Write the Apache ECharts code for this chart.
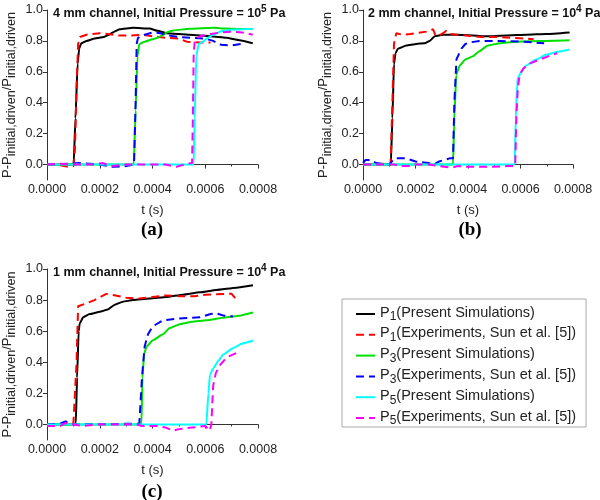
<!DOCTYPE html>
<html>
<head>
<meta charset="utf-8">
<script src="https://cdn.jsdelivr.net/npm/echarts@6/dist/echarts.min.js"></script>
<style>html,body{margin:0;padding:0;background:#fff}#c{width:600px;height:500px}</style>
</head>
<body>
<div id="c"></div>
<script>
// ---------- data (t in seconds, value = (P - Pinit)/Pinit) ----------
const seriesNames = [
  'P1(Present Simulations)',
  'P1(Experiments, Sun et al. [5])',
  'P3(Present Simulations)',
  'P3(Experiments, Sun et al. [5])',
  'P5(Present Simulations)',
  'P5(Experiments, Sun et al. [5])'
];
const seriesColors = ['#000000', '#ff0000', '#00e000', '#0000ff', '#00ffff', '#ff00ff'];
const panelTitles = [
  ['4 mm channel, Initial Pressure = 10', '5', ' Pa'],
  ['2 mm channel, Initial Pressure = 10', '4', ' Pa'],
  ['1 mm channel, Initial Pressure = 10', '4', ' Pa']
];
const panelLetters = ['(a)', '(b)', '(c)'];
const xTicks = [0, 0.0002, 0.0004, 0.0006, 0.0008];
const yTicks = [0, 0.2, 0.4, 0.6, 0.8, 1.0];

// panel (a) 4 mm
const a_P1_sim = [[0,0],[0.000101,0],[0.000108,0.3],[0.000116,0.65],[0.000122,0.75],[0.00013,0.785],[0.00015,0.80],[0.000181,0.815],[0.000215,0.825],[0.000235,0.84],[0.000255,0.86],[0.000276,0.875],[0.000326,0.885],[0.000389,0.88],[0.00042,0.865],[0.000453,0.85],[0.000541,0.84],[0.00062,0.83],[0.00068,0.82],[0.00073,0.805],[0.00078,0.785]];
const a_P1_exp = [[0,0],[0.00005,-0.005],[0.00008,-0.015],[0.0001,-0.01],[0.000106,0.1],[0.000112,0.5],[0.000118,0.78],[0.000125,0.825],[0.00015,0.84],[0.0002,0.85],[0.00023,0.845],[0.00027,0.835],[0.00032,0.835],[0.00036,0.84],[0.0004,0.83],[0.00045,0.82],[0.0005,0.815],[0.00053,0.795],[0.00058,0.79],[0.00062,0.79]];
const a_P3_sim = [[0,0],[0.000329,0],[0.000336,0.35],[0.000343,0.7],[0.00035,0.78],[0.00037,0.795],[0.0004,0.81],[0.00042,0.82],[0.00044,0.84],[0.00046,0.86],[0.00048,0.868],[0.00054,0.878],[0.00063,0.885],[0.00068,0.88],[0.00073,0.877],[0.00078,0.877]];
const a_P3_exp = [[0,0],[0.00008,0.005],[0.00012,0.01],[0.00016,0.005],[0.0002,0],[0.00025,-0.015],[0.0003,-0.01],[0.00033,0],[0.000336,0.4],[0.00034,0.78],[0.000345,0.82],[0.00037,0.84],[0.0004,0.855],[0.00043,0.85],[0.00046,0.835],[0.0005,0.825],[0.00055,0.82],[0.0006,0.815],[0.00063,0.80],[0.00066,0.775],[0.0007,0.77],[0.00075,0.785]];
const a_P5_sim = [[0,0],[0.000556,0],[0.00056,0.3],[0.000566,0.7],[0.000575,0.78],[0.00059,0.795],[0.00061,0.82],[0.00063,0.84],[0.00066,0.862],[0.0007,0.872],[0.00074,0.876],[0.00078,0.877]];
const a_P5_exp = [[0,0],[0.00005,0.005],[0.0001,0],[0.00018,0],[0.00021,0.01],[0.00025,-0.01],[0.0003,0],[0.00038,0],[0.00045,0],[0.00049,-0.015],[0.00053,0.005],[0.00055,0.01],[0.000553,0.3],[0.000556,0.7],[0.00056,0.8],[0.00058,0.83],[0.00062,0.845],[0.00066,0.855],[0.0007,0.86],[0.00074,0.855],[0.00078,0.84]];

// panel (b) 2 mm
const b_P1_sim = [[0,0],[0.000106,0],[0.000112,0.3],[0.000118,0.65],[0.000124,0.72],[0.000133,0.75],[0.000165,0.77],[0.000203,0.78],[0.000235,0.785],[0.000254,0.80],[0.000273,0.83],[0.000305,0.84],[0.000356,0.84],[0.000419,0.835],[0.00047,0.83],[0.000546,0.835],[0.000622,0.84],[0.000698,0.845],[0.000787,0.855]];
const b_P1_exp = [[0,0],[0.00004,0],[0.00008,0.005],[0.000105,0],[0.000112,0.4],[0.000118,0.78],[0.000127,0.85],[0.00015,0.84],[0.00018,0.845],[0.000203,0.85],[0.000241,0.86],[0.000267,0.875],[0.000275,0.84],[0.000285,0.83],[0.000305,0.85],[0.000317,0.865],[0.00033,0.845],[0.00036,0.84],[0.000394,0.835],[0.00045,0.825],[0.00052,0.825],[0.00057,0.82],[0.00062,0.815],[0.00065,0.81]];
const b_P3_sim = [[0,0],[0.000343,0],[0.000348,0.3],[0.000355,0.58],[0.000368,0.64],[0.00039,0.68],[0.000419,0.70],[0.00044,0.73],[0.000476,0.77],[0.000521,0.785],[0.00058,0.795],[0.000673,0.80],[0.000787,0.805]];
const b_P3_exp = [[0,0.01],[0.00001,0.03],[0.00003,0.03],[0.00005,0.01],[0.0001,0],[0.00012,0.04],[0.000165,0.04],[0.0002,0.02],[0.00025,0.01],[0.00027,0],[0.00029,0.02],[0.00033,0.04],[0.000343,0.04],[0.000348,0.4],[0.000356,0.68],[0.000375,0.75],[0.00039,0.78],[0.000406,0.79],[0.000444,0.80],[0.00052,0.80],[0.0006,0.795],[0.00065,0.79],[0.00069,0.785]];
const b_P5_sim = [[0,0],[0.000578,0],[0.000582,0.3],[0.000587,0.52],[0.00059,0.56],[0.000603,0.6],[0.00062,0.64],[0.00066,0.68],[0.000698,0.71],[0.00074,0.73],[0.000787,0.745]];
const b_P5_exp = [[0,0],[0.00012,0],[0.00014,-0.01],[0.00018,-0.01],[0.0002,0],[0.00025,0],[0.00029,-0.01],[0.00034,-0.02],[0.00036,-0.01],[0.0004,-0.015],[0.00048,-0.015],[0.00055,-0.01],[0.00058,-0.01],[0.000584,0.3],[0.00059,0.5],[0.000597,0.58],[0.00061,0.62],[0.00063,0.65],[0.000673,0.68],[0.000705,0.70],[0.00074,0.72]];

// panel (c) 1 mm
const c_P1_sim = [[0,0],[0.000109,0],[0.000114,0.3],[0.00012,0.6],[0.000124,0.65],[0.000137,0.69],[0.000162,0.71],[0.0002,0.725],[0.000231,0.74],[0.000257,0.77],[0.000288,0.79],[0.000326,0.80],[0.000389,0.81],[0.000453,0.82],[0.000516,0.835],[0.000579,0.85],[0.000642,0.865],[0.000718,0.88],[0.000781,0.895]];
const c_P1_exp = [[0,0],[0.00004,-0.01],[0.00007,0.01],[0.0001,0.005],[0.000106,0],[0.000112,0.4],[0.000118,0.76],[0.000124,0.77],[0.00015,0.78],[0.00018,0.80],[0.000225,0.84],[0.00026,0.83],[0.0003,0.815],[0.00035,0.81],[0.0004,0.82],[0.00045,0.83],[0.0005,0.825],[0.00056,0.825],[0.0006,0.835],[0.00068,0.84],[0.0007,0.84],[0.000715,0.81]];
const c_P3_sim = [[0,0],[0.000358,0],[0.000362,0.3],[0.000368,0.45],[0.000377,0.5],[0.0004,0.54],[0.00044,0.58],[0.000465,0.62],[0.000503,0.645],[0.00055,0.66],[0.000604,0.67],[0.00068,0.69],[0.00073,0.70],[0.000781,0.72]];
const c_P3_exp = [[0,0],[0.00005,0.005],[0.00007,0.02],[0.00009,0.01],[0.0001,0],[0.00035,0.005],[0.000352,0.01],[0.00036,0.3],[0.00037,0.5],[0.000383,0.58],[0.0004,0.63],[0.00044,0.67],[0.00049,0.68],[0.00058,0.69],[0.00062,0.71],[0.00064,0.715],[0.00067,0.70],[0.000705,0.695]];
const c_P5_sim = [[0,0],[0.000604,0],[0.000612,0.2],[0.000618,0.32],[0.00063,0.36],[0.00065,0.41],[0.000668,0.45],[0.000705,0.49],[0.00074,0.52],[0.000781,0.54]];
const c_P5_exp = [[0,-0.01],[0.00005,-0.01],[0.00007,0.01],[0.0001,0],[0.000137,-0.01],[0.00016,-0.005],[0.0002,0],[0.0003,0],[0.00034,0],[0.00036,-0.01],[0.00042,-0.01],[0.00045,-0.02],[0.000478,-0.04],[0.0005,-0.03],[0.00055,-0.02],[0.0006,-0.01],[0.000617,-0.04],[0.000623,0],[0.00063,0.25],[0.00064,0.33],[0.000655,0.38],[0.00068,0.43],[0.000718,0.46],[0.000735,0.465]];

const panelData = [
  [a_P1_sim, a_P1_exp, a_P3_sim, a_P3_exp, a_P5_sim, a_P5_exp],
  [b_P1_sim, b_P1_exp, b_P3_sim, b_P3_exp, b_P5_sim, b_P5_exp],
  [c_P1_sim, c_P1_exp, c_P3_sim, c_P3_exp, c_P5_sim, c_P5_exp]
];

// ---------- layout ----------
const FONT = 'Liberation Sans';
const grids = [
  {left: 47, top: 10, width: 211, height: 170},
  {left: 363, top: 10, width: 210, height: 170},
  {left: 47, top: 269, width: 211, height: 171}
];
const titlePos = [{left: 53, top: 4}, {left: 368, top: 4}, {left: 53, top: 263}];
const letterPos = [[152, 230], [470, 230], [152, 492]];

const nameRich = {
  m: {fontSize: 13, verticalAlign: 'bottom', padding: [0, 0, 4, 0], color: '#222', fontFamily: FONT},
  s: {fontSize: 12.5, verticalAlign: 'bottom', color: '#222', fontFamily: FONT}
};

const xAxes = [], yAxes = [], series = [], titles = [], graphics = [];
grids.forEach((g, i) => {
  xAxes.push({
    type: 'value', gridIndex: i, min: 0, max: 0.0008, interval: 0.0002,
    axisLine: {show: true, lineStyle: {color: '#333', width: 1}},
    axisTick: {show: true, length: 4, lineStyle: {color: '#333'}},
    minorTick: {show: true, splitNumber: 2, length: 2, lineStyle: {color: '#333'}},
    splitLine: {show: false},
    axisLabel: {fontSize: 12.5, color: '#222', margin: 3, fontFamily: FONT,
      formatter: v => v.toFixed(4)},
    name: 't (s)', nameLocation: 'middle', nameGap: 24,
    nameTextStyle: {fontSize: 13, color: '#222', fontFamily: FONT}
  });
  yAxes.push({
    type: 'value', gridIndex: i, min: -0.1, max: 1.0,
    axisLine: {show: true, lineStyle: {color: '#333', width: 1}},
    axisTick: {show: true, length: 4, customValues: yTicks, lineStyle: {color: '#333'}},
    splitLine: {show: false},
    axisLabel: {fontSize: 12.5, color: '#222', margin: 4, fontFamily: FONT,
      customValues: yTicks, formatter: v => v.toFixed(1)},
    name: '{m|P-P}{s|initial,driven}{m|/P}{s|initial,driven}',
    nameLocation: 'middle', nameRotate: 90, nameGap: 29,
    nameTextStyle: {rich: nameRich}
  });
  panelData[i].forEach((d, k) => {
    const exp = k % 2 === 1;
    series.push({
      name: seriesNames[k], type: 'line', xAxisIndex: i, yAxisIndex: i,
      data: d, showSymbol: false, symbol: 'none', smooth: exp ? false : 0.15,
      smoothMonotone: 'x', animation: false,
      lineStyle: {color: seriesColors[k], width: 2, type: exp ? [8, 5] : 'solid'},
      itemStyle: {color: seriesColors[k]}, z: 2 + k
    });
  });
  const t = panelTitles[i];
  titles.push({
    text: '{b|' + t[0] + '}{sup|' + t[1] + '}{b|' + t[2] + '}',
    left: titlePos[i].left, top: titlePos[i].top, padding: 0,
    textStyle: {rich: {
      b: {fontSize: 12.5, fontWeight: 'bold', color: '#111', verticalAlign: 'top', padding: [3, 0, 0, 0], fontFamily: FONT},
      sup: {fontSize: 10, fontWeight: 'bold', color: '#111', verticalAlign: 'top', fontFamily: FONT}
    }}
  });
  graphics.push({
    type: 'text', x: letterPos[i][0], y: letterPos[i][1],
    style: {text: panelLetters[i], textAlign: 'center', textVerticalAlign: 'middle',
      font: 'bold 19px "Liberation Serif"', fill: '#000'}
  });
});

const option = {
  animation: false,
  backgroundColor: '#fff',
  textStyle: {fontFamily: FONT},
  grid: grids,
  xAxis: xAxes,
  yAxis: yAxes,
  title: titles,
  graphic: graphics,
  legend: {
    data: seriesNames, orient: 'vertical', left: 342, top: 299,
    padding: [6, 10, 0, 13], itemGap: 2.8, itemWidth: 19, itemHeight: 12,
    itemStyle: {opacity: 0},
    borderColor: '#aaa', borderWidth: 1, selectedMode: false,
    formatter: name => name.replace(/^P(\d)(.*)$/, '{m|P}{s|$1}{m|$2}'),
    textStyle: {fontSize: 14, color: '#222', rich: {
      m: {fontSize: 14.5, verticalAlign: 'bottom', padding: [0, 0, 3, 0], color: '#222', fontFamily: FONT},
      s: {fontSize: 12, verticalAlign: 'bottom', color: '#222', fontFamily: FONT}
    }}
  },
  series: series
};
const chart = echarts.init(document.getElementById('c'), null, {renderer: 'canvas'});
chart.setOption(option);
</script>
</body>
</html>
